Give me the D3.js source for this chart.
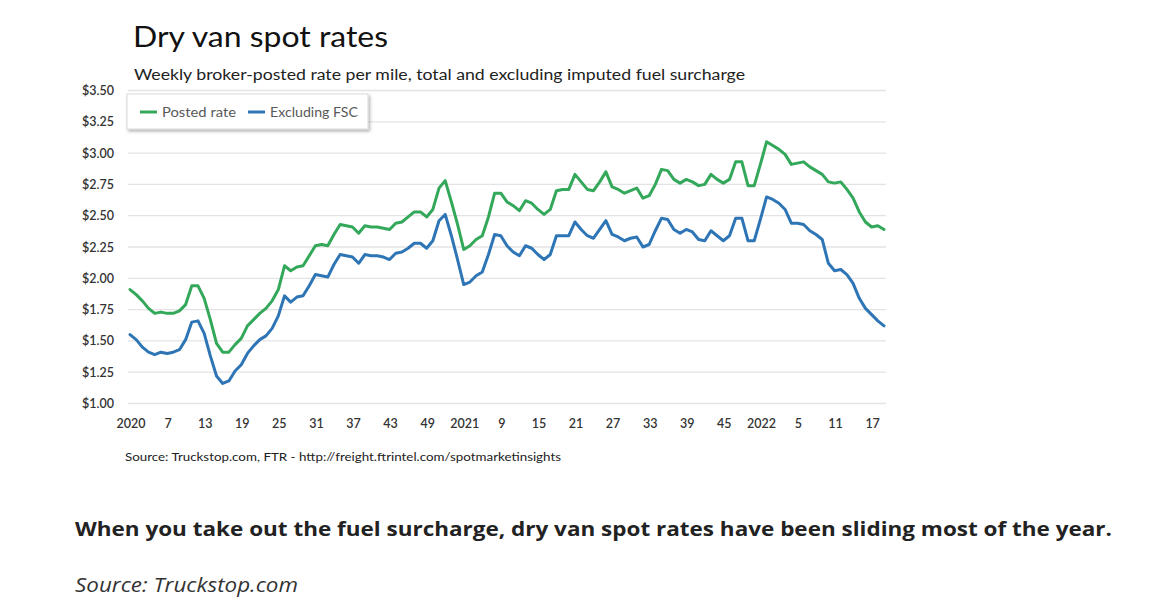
<html>
  <head>
    <meta charset="UTF-8">
    <script src="https://unpkg.com/d3@7/dist/d3.min.js"></script>
    <title>Dry van spot rates</title>
    <style>
      body { margin: 0; background: #fff; }
    </style>
  </head>
  <body>
	<script type="text/javascript">

      // weekly values, 2020 week 1 to 2022 week 19
      var postedRate = [1.91,1.87,1.82,1.76,1.72,1.73,1.72,1.72,1.74,1.79,1.94,1.94,1.84,1.67,1.48,1.41,1.41,1.47,1.52,1.62,
                        1.67,1.72,1.76,1.82,1.91,2.10,2.06,2.09,2.10,2.18,2.26,2.27,2.26,2.35,2.43,2.42,2.41,2.36,2.42,2.41,
                        2.41,2.40,2.39,2.44,2.45,2.49,2.53,2.53,2.49,2.55,2.72,2.78,2.61,2.43,2.23,2.26,2.31,2.34,2.49,2.68,
                        2.68,2.61,2.58,2.54,2.62,2.60,2.55,2.51,2.55,2.70,2.71,2.71,2.83,2.77,2.71,2.70,2.77,2.85,2.73,2.71,
                        2.68,2.70,2.72,2.64,2.66,2.75,2.87,2.86,2.79,2.76,2.79,2.77,2.74,2.75,2.83,2.79,2.76,2.79,2.93,2.93,
                        2.74,2.74,2.91,3.09,3.06,3.03,2.99,2.91,2.92,2.93,2.89,2.86,2.83,2.77,2.76,2.77,2.71,2.64,2.53,2.45,
                        2.41,2.42,2.39];
      var exclFsc    = [1.55,1.51,1.45,1.41,1.39,1.41,1.40,1.41,1.43,1.51,1.65,1.66,1.56,1.38,1.22,1.16,1.18,1.26,1.31,1.40,
                        1.46,1.51,1.54,1.60,1.70,1.86,1.81,1.85,1.86,1.94,2.03,2.02,2.01,2.11,2.19,2.18,2.17,2.12,2.19,2.18,
                        2.18,2.17,2.15,2.20,2.21,2.24,2.28,2.28,2.24,2.30,2.46,2.51,2.34,2.15,1.95,1.97,2.02,2.05,2.19,2.35,
                        2.34,2.26,2.21,2.18,2.26,2.24,2.19,2.15,2.19,2.34,2.34,2.34,2.45,2.39,2.34,2.32,2.39,2.46,2.35,2.33,
                        2.30,2.32,2.33,2.25,2.27,2.38,2.48,2.47,2.39,2.36,2.39,2.37,2.31,2.30,2.38,2.34,2.30,2.34,2.48,2.48,
                        2.30,2.30,2.47,2.65,2.63,2.60,2.55,2.44,2.44,2.43,2.38,2.35,2.31,2.12,2.06,2.07,2.03,1.96,1.84,1.76,
                        1.71,1.66,1.62];

      // x axis shows every 6th week
      var tickLabels = ["2020","7","13","19","25","31","37","43","49","2021","9","15","21","27","33","39","45","2022","5","11","17"];
      var tickStep = 6;
      var yTicks = [1.00,1.25,1.50,1.75,2.00,2.25,2.50,2.75,3.00,3.25,3.50];

      var seriesNames = ["Posted rate","Excluding FSC"];
      var seriesColors = ["#33a85a","#2e75b6"];

      var width = 1159;
      var height = 609;
      var calibri = "Lato, 'Open Sans', sans-serif";

      var svg = d3.select('body')
                  .append('svg')
                  .attr('width', width)
                  .attr('height', height);

      var x = d3.scaleLinear()
          .domain([0, postedRate.length - 1])
          .range([130, 884]);

      var y = d3.scaleLinear()
          .domain([1, 3.5])
          .range([403.5, 90.5]);

      // titles
      svg.append('text')
          .attr('x', 133).attr('y', 47)
          .attr('font-family', calibri)
          .attr('font-size', 29)
          .attr('fill', '#111')
          .attr('textLength', 255)
          .attr('lengthAdjust', 'spacingAndGlyphs')
          .text('Dry van spot rates');

      svg.append('text')
          .attr('x', 134).attr('y', 80)
          .attr('font-family', calibri)
          .attr('font-size', 15.5)
          .attr('fill', '#222')
          .attr('textLength', 611)
          .attr('lengthAdjust', 'spacingAndGlyphs')
          .text('Weekly broker-posted rate per mile, total and excluding imputed fuel surcharge');

      // gridlines
      svg.append('g')
          .selectAll('line')
          .data(yTicks)
          .enter()
          .append('line')
          .attr('x1', 128).attr('x2', 886)
          .attr('y1', function(d){ return y(d); })
          .attr('y2', function(d){ return y(d); })
          .style('stroke', '#e3e3e3')
          .style('stroke-width', 1.3);

      // y axis labels
      svg.append('g')
          .selectAll('text')
          .data(yTicks)
          .enter()
          .append('text')
          .attr('x', 114)
          .attr('y', function(d){ return y(d) + 4.5; })
          .attr('text-anchor', 'end')
          .attr('font-family', calibri)
          .attr('font-size', 12.5)
          .attr('font-weight', 600)
          .attr('fill', '#333')
          .text(function(d){ return '$' + d.toFixed(2); });

      // x axis labels
      svg.append('g')
          .selectAll('text')
          .data(tickLabels)
          .enter()
          .append('text')
          .attr('x', function(d, i){ return x(i * tickStep) + 1; })
          .attr('y', 428)
          .attr('text-anchor', 'middle')
          .attr('font-family', calibri)
          .attr('font-size', 12.5)
          .attr('font-weight', 600)
          .attr('fill', '#333')
          .text(function(d){ return d; });

      // the two lines
      var line = d3.line()
          .x(function(d, i){ return x(i); })
          .y(function(d){ return y(d); });

      [postedRate, exclFsc].forEach(function(values, k){
        svg.append('path')
            .datum(values)
            .attr('d', line)
            .style('fill', 'none')
            .style('stroke', seriesColors[k])
            .style('stroke-width', 3)
            .style('stroke-linejoin', 'round')
            .style('stroke-linecap', 'round');
      });

      // legend box with a soft shadow
      var defs = svg.append('defs');
      var filter = defs.append('filter').attr('id', 'shadow')
          .attr('x', '-10%').attr('y', '-30%').attr('width', '130%').attr('height', '180%');
      filter.append('feDropShadow')
          .attr('dx', 1.5).attr('dy', 2)
          .attr('stdDeviation', 1.5)
          .attr('flood-color', '#000')
          .attr('flood-opacity', 0.3);

      var legend = svg.append('g');
      legend.append('rect')
          .attr('x', 127).attr('y', 94)
          .attr('width', 241).attr('height', 35)
          .style('fill', '#fff')
          .style('stroke', '#d9d9d9')
          .style('stroke-width', 1)
          .attr('filter', 'url(#shadow)');

      var legendX = [140, 248];
      var legendW = [74, 88];
      seriesNames.forEach(function(name, k){
        legend.append('line')
            .attr('x1', legendX[k]).attr('x2', legendX[k] + 17)
            .attr('y1', 112).attr('y2', 112)
            .style('stroke', seriesColors[k])
            .style('stroke-width', 3);
        legend.append('text')
            .attr('x', legendX[k] + 22)
            .attr('y', 116.5)
            .attr('font-family', calibri)
            .attr('font-size', 13)
            .attr('fill', '#595959')
            .attr('textLength', legendW[k])
            .attr('lengthAdjust', 'spacingAndGlyphs')
            .text(name);
      });

      // source note inside the chart
      svg.append('text')
          .attr('x', 125).attr('y', 461)
          .attr('font-family', calibri)
          .attr('font-size', 11)
          .attr('fill', '#222')
          .attr('textLength', 436)
          .attr('lengthAdjust', 'spacingAndGlyphs')
          .text('Source: Truckstop.com, FTR - http://freight.ftrintel.com/spotmarketinsights');

      // caption below the chart
      svg.append('text')
          .attr('x', 75).attr('y', 536)
          .attr('font-family', "'Open Sans', sans-serif")
          .attr('font-size', 20)
          .attr('font-weight', 700)
          .attr('fill', '#222')
          .attr('textLength', 1037)
          .attr('lengthAdjust', 'spacingAndGlyphs')
          .text('When you take out the fuel surcharge, dry van spot rates have been sliding most of the year.');

      svg.append('text')
          .attr('x', 75).attr('y', 592)
          .attr('font-family', "'Open Sans', sans-serif")
          .attr('font-size', 20)
          .attr('font-style', 'italic')
          .attr('fill', '#333')
          .attr('textLength', 223)
          .attr('lengthAdjust', 'spacingAndGlyphs')
          .text('Source: Truckstop.com');

	</script>
  </body>
</html>
